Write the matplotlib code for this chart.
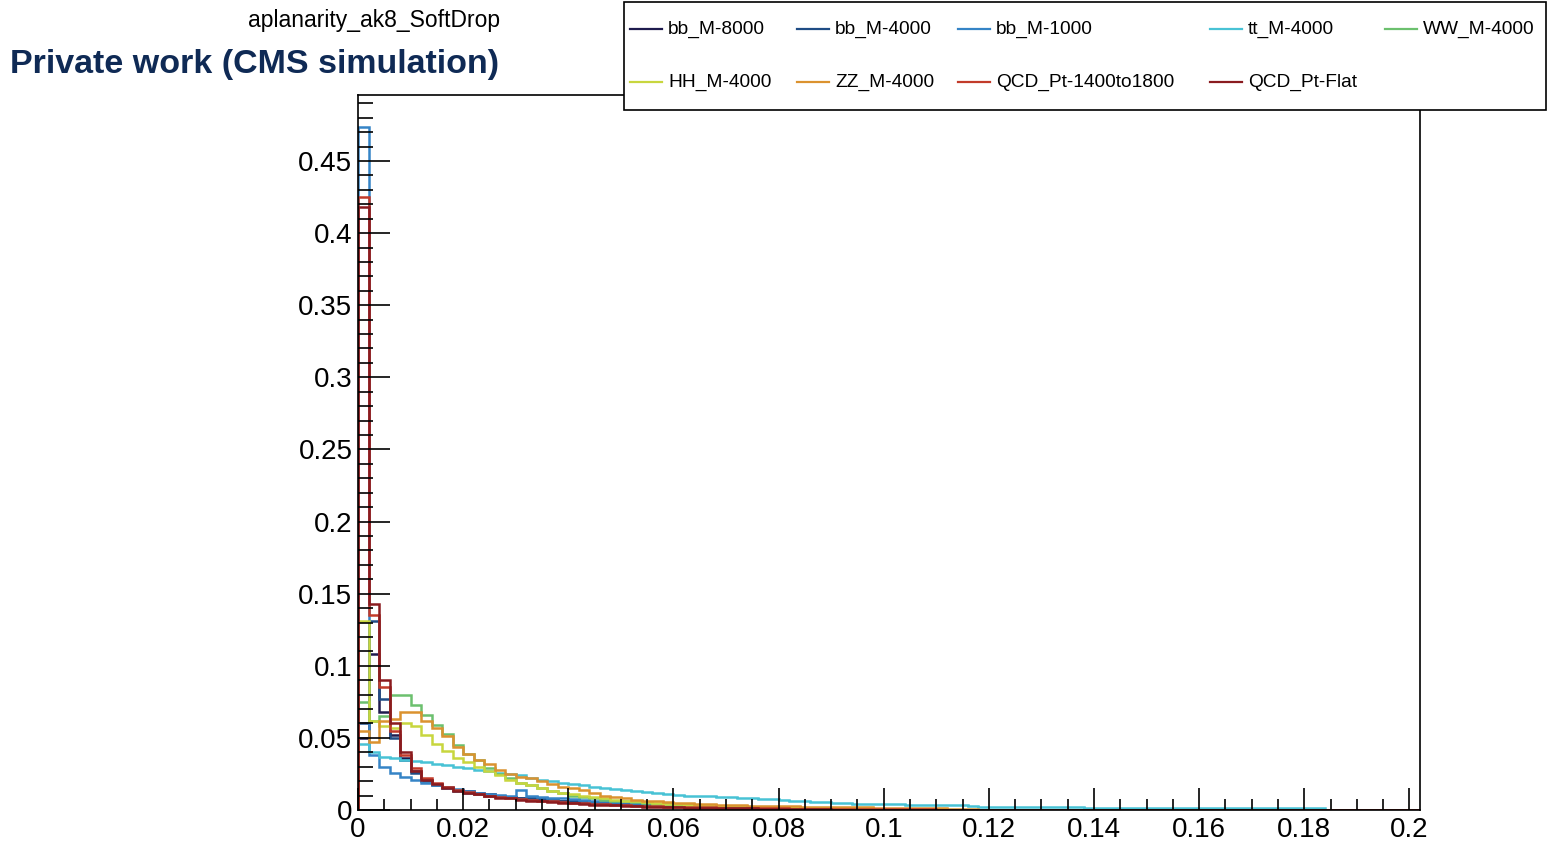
import matplotlib
matplotlib.use('Agg')
import matplotlib.pyplot as plt
from matplotlib.lines import Line2D
from matplotlib.patches import Rectangle
import numpy as np

plt.rcParams['font.family'] = ['Liberation Sans', 'DejaVu Sans']

# binning of the aplanarity histograms
NBINS = 101
BIN_WIDTH = 0.002

labels = ['bb_M-8000', 'bb_M-4000', 'bb_M-1000', 'tt_M-4000', 'WW_M-4000',
          'HH_M-4000', 'ZZ_M-4000', 'QCD_Pt-1400to1800', 'QCD_Pt-Flat']
colors = ['#1e1b4e', '#1f4c85', '#3584c6', '#48c2d5', '#6cc06e',
          '#c8d63e', '#db922f', '#c23b2a', '#8a1b1f']

# normalised bin contents (bins not listed are empty)
bb_M8000 = [0.050, 0.108, 0.068, 0.052, 0.036, 0.027, 0.021, 0.018, 0.016, 0.014,
            0.013, 0.012, 0.011, 0.010, 0.009, 0.0085, 0.008, 0.0075, 0.007, 0.0065,
            0.006, 0.0055, 0.005, 0.0047, 0.0044, 0.0041, 0.0038, 0.0035, 0.0032, 0.003,
            0.0028, 0.0026, 0.0024, 0.0022, 0.002, 0.0018, 0.0016, 0.0015, 0.0014, 0.0013,
            0.0012, 0.0011, 0.001, 0.0009, 0.0008, 0.0007, 0.0006, 0.0005, 0.0004, 0.0003]
bb_M4000 = [0.060, 0.131, 0.077, 0.050, 0.035, 0.026, 0.020, 0.017, 0.015, 0.0135,
            0.012, 0.011, 0.010, 0.0095, 0.009, 0.0085, 0.008, 0.0075, 0.007, 0.0065,
            0.006, 0.0055, 0.005, 0.0046, 0.0043, 0.004, 0.0037, 0.0034, 0.0031, 0.0029,
            0.0027, 0.0025, 0.0023, 0.0021, 0.0019, 0.0017, 0.0015, 0.0014, 0.0013, 0.0012,
            0.0011, 0.001, 0.0009, 0.0008, 0.0007, 0.0006, 0.0005, 0.0004]
bb_M1000 = [0.4735, 0.038, 0.030, 0.026, 0.023, 0.021, 0.019, 0.017, 0.0155, 0.0145,
            0.0135, 0.012, 0.011, 0.0105, 0.010, 0.0138, 0.0095, 0.009, 0.0085, 0.008,
            0.0075, 0.007, 0.0065, 0.006, 0.0057, 0.0054, 0.005, 0.0047, 0.0044, 0.0041,
            0.0038, 0.0035, 0.0032, 0.003, 0.0028, 0.0026, 0.0024, 0.0022, 0.002, 0.0018,
            0.0016, 0.0014, 0.0012, 0.001, 0.0009, 0.0008, 0.0007, 0.0006]
tt_M4000 = [0.046, 0.040, 0.037, 0.036, 0.035, 0.034, 0.033, 0.032, 0.031, 0.030,
            0.029, 0.028, 0.027, 0.026, 0.025, 0.024, 0.022, 0.021, 0.020, 0.019,
            0.018, 0.017, 0.016, 0.015, 0.0145, 0.014, 0.0135, 0.0125, 0.012, 0.011,
            0.0105, 0.010, 0.0098, 0.0095, 0.0092, 0.009, 0.0085, 0.008, 0.0078, 0.0075,
            0.007, 0.0065, 0.006, 0.0058, 0.0055, 0.005, 0.0048, 0.0045, 0.0043, 0.0042,
            0.004, 0.004, 0.0038, 0.0037, 0.0036, 0.0035, 0.0035, 0.0035, 0.0025, 0.002,
            0.002, 0.002, 0.0019, 0.0019, 0.0019, 0.0018, 0.0018, 0.0018, 0.0018, 0.0017,
            0.0017, 0.0017, 0.0017, 0.0016, 0.0016, 0.0016, 0.0016, 0.0016, 0.0015, 0.0015,
            0.0015, 0.0015, 0.0015, 0.0015, 0.0014, 0.0014, 0.0014, 0.0014, 0.0014, 0.0014,
            0.0014, 0.0014]
WW_M4000 = [0.075, 0.062, 0.065, 0.080, 0.080, 0.0725, 0.066, 0.059, 0.053, 0.045,
            0.039, 0.035, 0.029, 0.025, 0.022, 0.019, 0.017, 0.015, 0.013, 0.012,
            0.010, 0.009, 0.008, 0.0072, 0.0065, 0.006, 0.0055, 0.005, 0.0045, 0.004,
            0.0037, 0.0034, 0.0031, 0.0029, 0.0027, 0.0025, 0.0023, 0.0021, 0.002, 0.0019,
            0.0018, 0.0017, 0.0016, 0.0015, 0.0014, 0.0013, 0.0012, 0.0011, 0.001, 0.0009,
            0.0008, 0.0007, 0.0006, 0.0005]
HH_M4000 = [0.131, 0.062, 0.058, 0.057, 0.060, 0.058, 0.052, 0.046, 0.041, 0.036,
            0.033, 0.030, 0.027, 0.024, 0.021, 0.019, 0.017, 0.015, 0.0135, 0.012,
            0.011, 0.010, 0.009, 0.008, 0.0072, 0.0065, 0.006, 0.0055, 0.005, 0.0045,
            0.0041, 0.0038, 0.0035, 0.0032, 0.003, 0.0028, 0.0026, 0.0024, 0.0022, 0.002,
            0.0019, 0.0018, 0.0017, 0.0016, 0.0015, 0.0014, 0.0013, 0.0012, 0.0011, 0.001,
            0.0009, 0.0008, 0.0007, 0.0006, 0.0005]
ZZ_M4000 = [0.055, 0.047, 0.062, 0.063, 0.068, 0.068, 0.062, 0.057, 0.051, 0.044,
            0.039, 0.035, 0.032, 0.028, 0.025, 0.023, 0.022, 0.020, 0.018, 0.016,
            0.015, 0.0138, 0.0115, 0.010, 0.009, 0.008, 0.0072, 0.0065, 0.006, 0.0055,
            0.005, 0.0046, 0.0043, 0.004, 0.0037, 0.0034, 0.0032, 0.003, 0.0028, 0.0027,
            0.0026, 0.0025, 0.0024, 0.0023, 0.0022, 0.0021, 0.002, 0.0019, 0.0018, 0.0017,
            0.0016, 0.0015, 0.0014, 0.0013, 0.0012, 0.0011, 0.001, 0.0009, 0.0008]
QCD_1400 = [0.425, 0.135, 0.085, 0.055, 0.038, 0.029, 0.022, 0.019, 0.016, 0.014,
            0.0125, 0.011, 0.010, 0.009, 0.0082, 0.0075, 0.007, 0.0065, 0.006, 0.0055,
            0.005, 0.0046, 0.0042, 0.0039, 0.0036, 0.0033, 0.003, 0.0028, 0.0026, 0.0024,
            0.0022, 0.002, 0.0019, 0.0018, 0.0017, 0.0016, 0.0015, 0.0014, 0.0013, 0.0012,
            0.0011, 0.001, 0.001, 0.0009, 0.0009, 0.0008, 0.0008, 0.0007, 0.0007, 0.0006,
            0.0006, 0.0005, 0.0005, 0.0004, 0.0004, 0.0003]
QCD_Flat = [0.418, 0.143, 0.090, 0.060, 0.040, 0.027, 0.021, 0.018, 0.015, 0.0135,
            0.012, 0.011, 0.0095, 0.0085, 0.008, 0.007, 0.0065, 0.006, 0.0055, 0.005,
            0.0046, 0.0042, 0.0038, 0.0035, 0.0032, 0.0029, 0.0026, 0.0024, 0.0022, 0.002,
            0.0018, 0.0017, 0.0016, 0.0015, 0.0014, 0.0013, 0.0012, 0.0011, 0.001, 0.0009,
            0.0008, 0.0007, 0.0006, 0.0005, 0.0004, 0.0003]

series = [bb_M8000, bb_M4000, bb_M1000, tt_M4000, WW_M4000,
          HH_M4000, ZZ_M4000, QCD_1400, QCD_Flat]

W, H = 1548, 844
fig = plt.figure(figsize=(W / 100, H / 100), dpi=100)


def fx(px):
    return px / W


def fy(py):
    return 1 - py / H


ax = fig.add_axes([fx(358), fy(810), fx(1420) - fx(358), fy(95) - fy(810)])

edges = np.arange(NBINS + 1) * BIN_WIDTH
for vals, col in zip(series, colors):
    counts = np.zeros(NBINS)
    counts[:len(vals)] = vals
    ax.stairs(counts, edges, baseline=0, color=col, lw=1.8)

xmax = NBINS * BIN_WIDTH
ymax = max(max(s) for s in series) * 1.047
ax.set_xlim(0, xmax)
ax.set_ylim(0, ymax)

ax.set_xticks(np.arange(0, 0.2001, 0.02))
ax.set_xticks(np.arange(0, 0.2001, 0.005), minor=True)
ax.set_yticks(np.arange(0, 0.4501, 0.05))
ax.set_yticks(np.arange(0, ymax, 0.01), minor=True)
ax.set_xticklabels(['%g' % round(v, 3) for v in ax.get_xticks()])
ax.set_yticklabels(['%g' % round(v, 3) for v in ax.get_yticks()])

ax.tick_params(axis='both', which='both', direction='in', width=1.2,
               top=False, right=False, labelsize=20, colors='black')
ax.tick_params(axis='y', which='major', length=23, pad=4)
ax.tick_params(axis='y', which='minor', length=11)
ax.tick_params(axis='x', which='major', length=16, pad=5)
ax.tick_params(axis='x', which='minor', length=8)
for sp in ax.spines.values():
    sp.set_linewidth(1.2)

fig.text(fx(374), fy(21), 'aplanarity_ak8_SoftDrop', fontsize=16.5,
         ha='center', va='center')
fig.text(fx(10), fy(64), 'Private work (CMS simulation)', fontsize=24.5,
         fontweight='bold', color='#0f2a55', ha='left', va='center')

# legend box
fig.patches.append(Rectangle((fx(624), fy(110)), fx(1546) - fx(624), fy(2) - fy(110),
                             transform=fig.transFigure, facecolor='white',
                             edgecolor='black', lw=1.2, zorder=5))
entry_x = [630, 797, 958, 1210, 1385, 630, 797, 958, 1210]
entry_y = [29, 29, 29, 29, 29, 82, 82, 82, 82]
for lab, col, ex, ey in zip(labels, colors, entry_x, entry_y):
    fig.lines.append(Line2D([fx(ex), fx(ex + 32)], [fy(ey), fy(ey)],
                            transform=fig.transFigure, color=col, lw=1.6, zorder=6))
    fig.text(fx(ex + 38), fy(ey), lab, fontsize=13.8, ha='left', va='center', zorder=6)

fig.savefig('out.png', dpi=100)
